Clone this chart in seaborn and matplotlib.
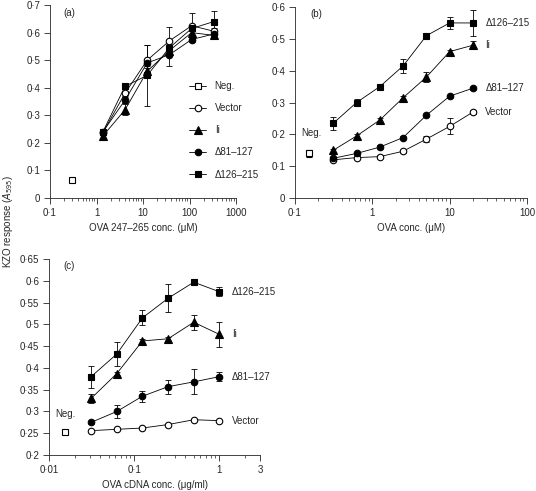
import numpy as np
import pandas as pd
import matplotlib
matplotlib.use("Agg")
import matplotlib.pyplot as plt
import matplotlib.ticker as mticker
import seaborn as sns

sns.set_style("ticks")
plt.rcParams['font.family'] = ['Liberation Sans', 'DejaVu Sans']
plt.rcParams['font.size'] = 7

# ---- panel (a): OVA 247-265 peptide ----
a_conc = [1.37, 4.1, 12.3, 37, 111, 333]
a_vector = [0.237, 0.38, 0.50, 0.57, 0.625, 0.605]
a_vector_err = [0.01, 0.01, 0.055, 0.05, 0.045, 0.01]
a_ii = [0.225, 0.32, 0.46, 0.535, 0.60, 0.59]
a_ii_err = [0.01, 0.02, 0.01, 0.01, 0.01, 0.01]
a_d81 = [0.24, 0.355, 0.49, 0.52, 0.575, 0.595]
a_d81_err = [0.01, 0.01, 0.01, 0.04, 0.01, 0.01]
a_d126 = [0.24, 0.405, 0.445, 0.545, 0.615, 0.64]
a_d126_err = [0.01, 0.01, 0.11, 0.03, 0.01, 0.04]
a_neg = (0.3, 0.065)

# ---- panel (b): OVA protein ----
b_conc = [0.3125, 0.625, 1.25, 2.5, 5, 10, 20]
b_vector = [0.12, 0.127, 0.13, 0.147, 0.185, 0.225, 0.27]
b_vector_err = [0.005, 0.005, 0.005, 0.005, 0.01, 0.025, 0.005]
b_ii = [0.15, 0.195, 0.245, 0.315, 0.38, 0.46, 0.48]
b_ii_err = [0.005, 0.005, 0.005, 0.005, 0.015, 0.005, 0.013]
b_d81 = [0.125, 0.14, 0.16, 0.19, 0.26, 0.32, 0.345]
b_d81_err = [0.005, 0.005, 0.005, 0.005, 0.005, 0.005, 0.005]
b_d126 = [0.235, 0.30, 0.35, 0.415, 0.51, 0.55, 0.55]
b_d126_err = [0.02, 0.01, 0.005, 0.022, 0.005, 0.02, 0.04]
b_neg = (0.15, 0.14)

# ---- panel (c): OVA cDNA ----
c_conc = [0.03125, 0.0625, 0.125, 0.25, 0.5, 1.0]
c_vector = [0.256, 0.259, 0.262, 0.27, 0.281, 0.279]
c_ii = [0.33, 0.387, 0.462, 0.467, 0.505, 0.477]
c_ii_err = [0.01, 0.004, 0.004, 0.004, 0.017, 0.029]
c_d81 = [0.275, 0.30, 0.335, 0.357, 0.368, 0.38]
c_d81_err = [0.004, 0.016, 0.013, 0.016, 0.029, 0.01]
c_d126 = [0.38, 0.432, 0.515, 0.56, 0.597, 0.575]
c_d126_err = [0.025, 0.027, 0.017, 0.032, 0.004, 0.01]
c_neg = (0.0156, 0.252)

labels = ["Vector", "Ii", "\u039481\u2013127", "\u0394126\u2013215"]
styles = {"Vector": ("o", "white"), "Ii": ("^", "black"),
          "\u039481\u2013127": ("o", "black"), "\u0394126\u2013215": ("s", "black")}


def dot_fmt(v, pos):
    if v == 0:
        return "0"
    s = ("%g" % v)
    return s.replace(".", "\u00b7")


def draw_series(ax, x, ys, errs, legend=False):
    for lab, y, e in zip(labels, ys, errs):
        m, fc = styles[lab]
        if e is not None:
            ax.errorbar(x, y, yerr=e, fmt="none", ecolor="black", elinewidth=0.6,
                        capsize=2, capthick=0.6, zorder=1)
        df = pd.DataFrame({"x": x, "y": y})
        sns.lineplot(data=df, x="x", y="y", ax=ax, color="black", lw=0.6,
                     marker=m, markersize=4.7 if m != "^" else 5.2,
                     markerfacecolor=fc, markeredgecolor="black", markeredgewidth=0.8,
                     label=lab if legend else None, zorder=3)


def style_axis(ax, xlim, ylim, yticks, xticks):
    ax.set_xscale("log")
    ax.set_xlim(*xlim)
    ax.set_ylim(*ylim)
    ax.set_yticks(yticks)
    ax.set_xticks(xticks)
    ax.xaxis.set_major_formatter(mticker.FuncFormatter(dot_fmt))
    ax.yaxis.set_major_formatter(mticker.FuncFormatter(dot_fmt))
    ax.xaxis.set_minor_locator(mticker.LogLocator(base=10, subs=np.arange(2, 10), numticks=20))
    ax.xaxis.set_minor_formatter(mticker.NullFormatter())
    ax.tick_params(which="major", direction="out", length=4, width=0.6, labelsize=7, pad=3)
    ax.tick_params(which="minor", direction="out", length=2, width=0.5)
    ax.set_ylabel("")
    for sp in ["top", "right"]:
        ax.spines[sp].set_visible(False)
    for sp in ["left", "bottom"]:
        ax.spines[sp].set_linewidth(0.6)


fig = plt.figure(figsize=(5.36, 4.91), dpi=100)
ax_a = fig.add_axes([0.0933, 0.5967, 0.347, 0.393])
ax_b = fig.add_axes([0.5504, 0.5967, 0.4328, 0.389])
ax_c = fig.add_axes([0.0914, 0.0733, 0.3937, 0.399])

# (a)
ax_a.plot([a_neg[0]], [a_neg[1]], marker="s", ls="-", color="black", lw=0.6,
          markersize=4.7, markerfacecolor="white", markeredgewidth=0.8, label="Neg.")
draw_series(ax_a, a_conc, [a_vector, a_ii, a_d81, a_d126],
            [a_vector_err, a_ii_err, a_d81_err, a_d126_err], legend=True)
style_axis(ax_a, (0.1, 1000), (0, 0.7), np.arange(0, 0.71, 0.1), [0.1, 1, 10, 100, 1000])
ax_a.set_xlabel("OVA 247\u2013265 conc. (\u03bcM)", fontsize=7, labelpad=4)
ax_a.text(0.07, 0.985, "(a)", transform=ax_a.transAxes, fontsize=7, va="top")
ax_a.legend(loc="lower right", bbox_to_anchor=(1.17, 0.05), frameon=False, fontsize=7,
            labelspacing=1.25, handlelength=1.7, handletextpad=0.9)

# (b)
ax_b.errorbar([b_neg[0]], [b_neg[1]], yerr=0.01, fmt="s", color="black", ms=4.7,
              mfc="white", mew=0.8, elinewidth=0.6, capsize=2, capthick=0.6)
draw_series(ax_b, b_conc, [b_vector, b_ii, b_d81, b_d126],
            [b_vector_err, b_ii_err, b_d81_err, b_d126_err])
style_axis(ax_b, (0.1, 100), (0, 0.6), np.arange(0, 0.61, 0.1), [0.1, 1, 10, 100])
ax_b.set_xlabel("OVA conc. (\u03bcM)", fontsize=7, labelpad=4)
ax_b.text(0.065, 0.99, "(b)", transform=ax_b.transAxes, fontsize=7, va="top")
for lab, y in zip(labels, [b_vector, b_ii, b_d81, b_d126]):
    ax_b.annotate(lab, (b_conc[-1], y[-1]), xytext=(9, 0), textcoords="offset points",
                  va="center", fontsize=7)
ax_b.annotate("Neg.", b_neg, xytext=(-5, 15), textcoords="offset points", fontsize=7,
              va="center")

# (c)
ax_c.plot([c_neg[0]], [c_neg[1]], marker="s", color="black", ms=4.7, mfc="white", mew=0.8)
draw_series(ax_c, c_conc, [c_vector, c_ii, c_d81, c_d126],
            [None, c_ii_err, c_d81_err, c_d126_err])
style_axis(ax_c, (0.01, 3), (0.2, 0.65), np.arange(0.2, 0.651, 0.05), [0.01, 0.1, 1, 3])
ax_c.set_xlabel("OVA cDNA conc. (\u03bcg/ml)", fontsize=7, labelpad=4)
ax_c.text(0.07, 0.99, "(c)", transform=ax_c.transAxes, fontsize=7, va="top")
for lab, y in zip(labels, [c_vector, c_ii, c_d81, c_d126]):
    ax_c.annotate(lab, (c_conc[-1], y[-1]), xytext=(9, 0), textcoords="offset points",
                  va="center", fontsize=7)
ax_c.annotate("Neg.", c_neg, xytext=(-7, 13), textcoords="offset points", fontsize=7,
              va="center")

fig.text(0.014, 0.55, "KZO response ($A_{595}$)", rotation=90, va="center", ha="center",
         fontsize=7)

fig.savefig("out.png", dpi=100)
